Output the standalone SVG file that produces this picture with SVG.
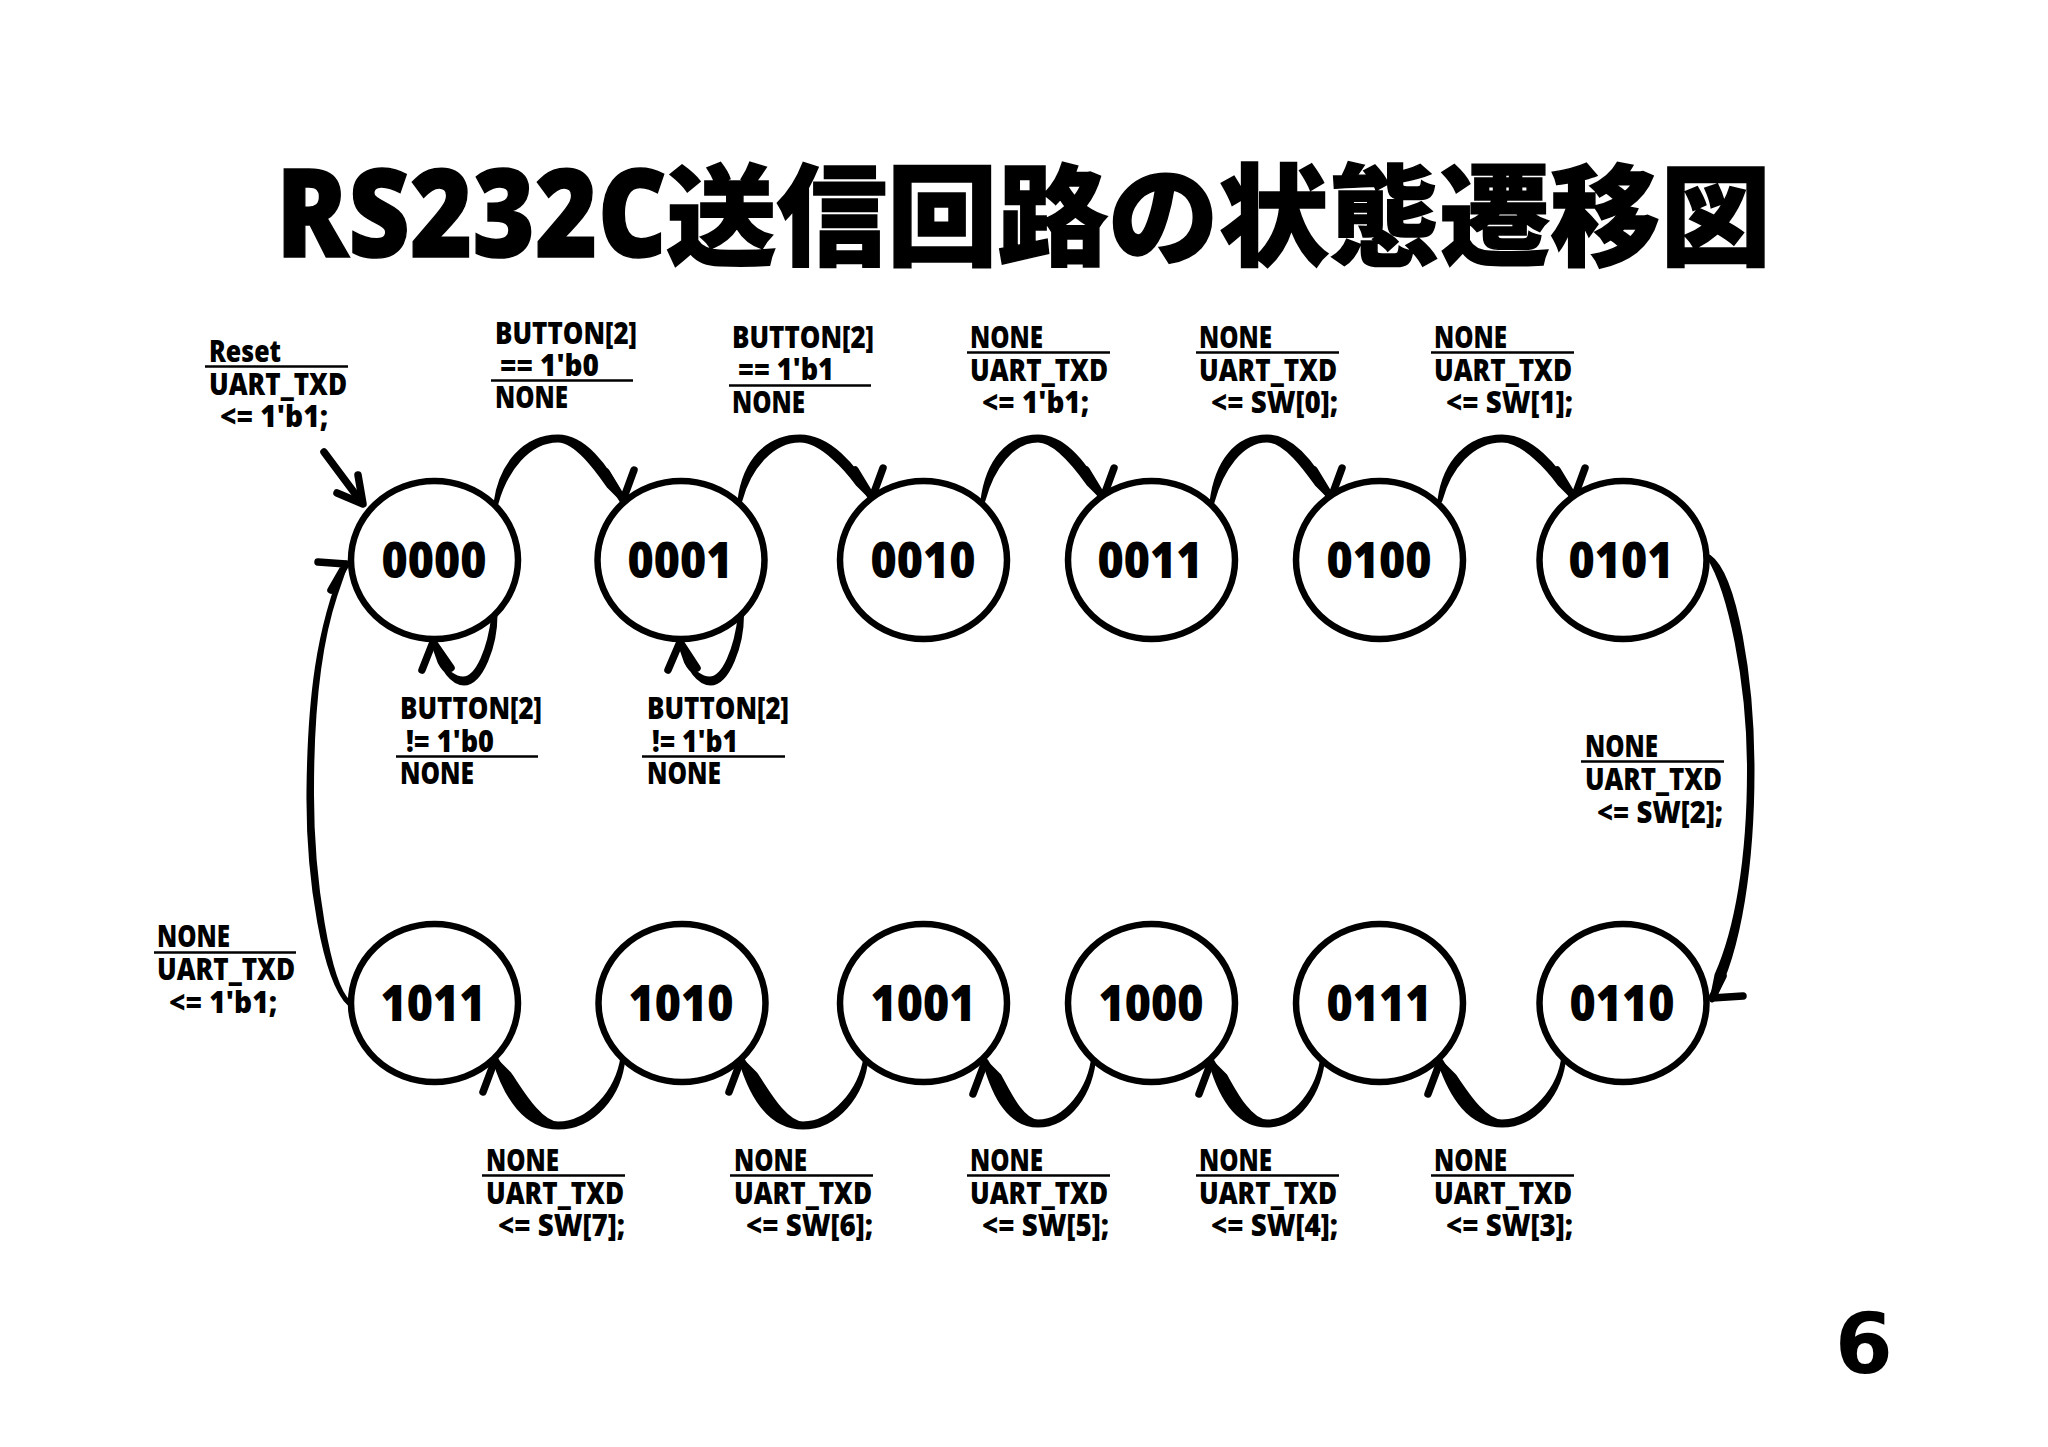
<svg xmlns="http://www.w3.org/2000/svg" width="2048" height="1447" viewBox="0 0 2048 1447">
<style>
text{font-family:"Open Sans","Noto Sans",sans-serif;font-weight:700;fill:#000}
.lab{font-size:30px;font-weight:800}
.num{font-size:50px;text-anchor:middle;font-weight:800}
.state{fill:#fff;stroke:#000;stroke-width:6.500}
.edge{fill:#000;stroke:#000;stroke-width:5;stroke-linejoin:round}
.head{fill:none;stroke:#000;stroke-width:7.500;stroke-linecap:round;stroke-linejoin:round}
.rule{stroke:#000;stroke-width:2.500}
</style>
<rect width="2048" height="1447" fill="#fff"/>
<text id="title" y="257" stroke="#000" stroke-width="1.500"><tspan x="276" font-size="122" font-weight="800" textLength="391" lengthAdjust="spacingAndGlyphs">RS232C</tspan><tspan x="666" font-size="110.500" font-weight="900" font-family="'Noto Sans CJK JP',sans-serif">送信回路の状態遷移図</tspan></text>

<g id="connectors">
<path class="edge" d="M496 503c5 -38 29 -66 62 -66c25 0 48 28 65 63l-14 -14c-10 -14 -32 -46 -51 -46c-30 0 -53 30 -62 63z"/>
<polyline class="head" points="606,472 623,500 634,470"/>
<path class="edge" d="M740 500c5 -38 27 -63 60 -63c28 0 54 28 72 61l-14 -14c-10 -14 -36 -44 -58 -44c-28 0 -51 27 -60 60z"/>
<polyline class="head" points="855,470 872,498 883,468"/>
<path class="edge" d="M983 500c5 -38 25 -63 55 -63c26 0 48 28 65 61l-14 -14c-10 -14 -32 -44 -51 -44c-26 0 -46 27 -55 60z"/>
<polyline class="head" points="1086,470 1103,498 1114,468"/>
<path class="edge" d="M1212 502c5 -40 25 -65 55 -65c26 0 47 28 64 61l-14 -14c-10 -14 -31 -44 -50 -44c-26 0 -46 29 -55 62z"/>
<polyline class="head" points="1314,470 1331,498 1342,468"/>
<path class="edge" d="M1440 500c5 -38 29 -63 62 -63c28 0 54 28 72 61l-14 -14c-10 -14 -36 -44 -58 -44c-30 0 -53 27 -62 60z"/>
<polyline class="head" points="1557,470 1574,498 1585,468"/>

<path class="edge" d="M623 1057c-3 38 -30 70 -65 70c-32 0 -52 -30 -63 -67l14 14c10 14 30 50 49 50c32 0 60 -33 65 -67z"/>
<polyline class="head" points="483,1092 495,1060 512,1090"/>
<path class="edge" d="M866 1057c-3 38 -30 70 -63 70c-32 0 -51 -30 -62 -67l14 14c10 14 29 50 48 50c30 0 58 -33 63 -67z"/>
<polyline class="head" points="729,1092 741,1060 758,1090"/>
<path class="edge" d="M1094 1055c-3 38 -25 70 -56 70c-28 0 -43 -28 -53 -63l14 14c8 14 22 46 39 46c28 0 53 -33 56 -67z"/>
<polyline class="head" points="973,1094 985,1062 1002,1092"/>
<path class="edge" d="M1323 1055c-3 38 -25 70 -56 70c-30 0 -46 -28 -56 -63l14 14c8 14 24 46 42 46c28 0 53 -33 56 -67z"/>
<polyline class="head" points="1199,1094 1211,1062 1228,1092"/>
<path class="edge" d="M1564 1055c-3 38 -29 70 -62 70c-32 0 -50 -28 -62 -63l14 14c10 14 29 46 48 46c30 0 59 -33 62 -67z"/>
<polyline class="head" points="1428,1094 1440,1062 1457,1092"/>

<path class="edge" d="M495 615c0 30 -14 68 -31 68c-14 0 -24 -20 -31 -41l7 20c5 10 15 17 23 17c15 0 27 -30 31 -64z"/>
<polyline class="head" points="422,670 433,642 451,668"/>
<path class="edge" d="M741.500 615c0 30 -14 68 -31 68c-14 0 -24 -20 -31 -41l7 20c5 10 15 17 23 17c15 0 27 -30 31 -64z"/>
<polyline class="head" points="668,670 680,642 697,668"/>

<path class="edge" d="M1709 557C1735 575 1752 680 1752 770C1752 860 1740 950 1712 1000L1717 975C1737 930 1749.500 860 1749.500 770C1749.500 680 1730 590 1709 557z"/>
<polyline class="head" points="1723,976 1712,998 1743,996"/>
<path class="edge" d="M349 1003C325 980 308 880 309 790C310 700 318 630 346 563L335 595C320 640 311.500 700 311.500 790C311 880 328 985 349 1003z"/>
<polyline class="head" points="318,562 346,564 331,590"/>

<line class="head" x1="324" y1="452" x2="362" y2="503"/>
<polyline class="head" points="358,475 363,504 337,493"/>
</g>

<g id="s0000"><ellipse class="state" cx="434.500" cy="560" rx="83.500" ry="79"/><text class="num" x="434" y="578" textLength="105" lengthAdjust="spacingAndGlyphs">0000</text></g>
<g id="s0001"><ellipse class="state" cx="681" cy="560" rx="83.500" ry="79"/><text class="num" x="680" y="578" textLength="105" lengthAdjust="spacingAndGlyphs">0001</text></g>
<g id="s0010"><ellipse class="state" cx="923.500" cy="560" rx="83.500" ry="79"/><text class="num" x="923" y="578" textLength="105" lengthAdjust="spacingAndGlyphs">0010</text></g>
<g id="s0011"><ellipse class="state" cx="1151.500" cy="560" rx="83.500" ry="79"/><text class="num" x="1150" y="578" textLength="105" lengthAdjust="spacingAndGlyphs">0011</text></g>
<g id="s0100"><ellipse class="state" cx="1379.500" cy="560" rx="83.500" ry="79"/><text class="num" x="1379" y="578" textLength="105" lengthAdjust="spacingAndGlyphs">0100</text></g>
<g id="s0101"><ellipse class="state" cx="1623" cy="560" rx="83.500" ry="79"/><text class="num" x="1621" y="578" textLength="105" lengthAdjust="spacingAndGlyphs">0101</text></g>
<g id="s1011"><ellipse class="state" cx="434.500" cy="1003" rx="83.500" ry="79"/><text class="num" x="433" y="1021" textLength="105" lengthAdjust="spacingAndGlyphs">1011</text></g>
<g id="s1010"><ellipse class="state" cx="682" cy="1003" rx="83.500" ry="79"/><text class="num" x="681" y="1021" textLength="105" lengthAdjust="spacingAndGlyphs">1010</text></g>
<g id="s1001"><ellipse class="state" cx="923.500" cy="1003" rx="83.500" ry="79"/><text class="num" x="923" y="1021" textLength="105" lengthAdjust="spacingAndGlyphs">1001</text></g>
<g id="s1000"><ellipse class="state" cx="1151.500" cy="1003" rx="83.500" ry="79"/><text class="num" x="1151" y="1021" textLength="105" lengthAdjust="spacingAndGlyphs">1000</text></g>
<g id="s0111"><ellipse class="state" cx="1379.500" cy="1003" rx="83.500" ry="79"/><text class="num" x="1379" y="1021" textLength="105" lengthAdjust="spacingAndGlyphs">0111</text></g>
<g id="s0110"><ellipse class="state" cx="1623" cy="1003" rx="83.500" ry="79"/><text class="num" x="1622" y="1021" textLength="105" lengthAdjust="spacingAndGlyphs">0110</text></g>

<g id="labels" transform="translate(0,1.500)">
<g><text class="lab" x="209" y="360" textLength="72" lengthAdjust="spacingAndGlyphs">Reset</text><line class="rule" x1="205" y1="365" x2="348" y2="365"/><text class="lab" x="209" y="393" textLength="138" lengthAdjust="spacingAndGlyphs">UART_TXD</text><text class="lab" x="220" y="425" textLength="108" lengthAdjust="spacingAndGlyphs">&lt;= 1'b1;</text></g>

<g><text class="lab" x="495" y="342" textLength="142" lengthAdjust="spacingAndGlyphs">BUTTON[2]</text><text class="lab" x="500" y="374" textLength="99" lengthAdjust="spacingAndGlyphs">== 1'b0</text><line class="rule" x1="491" y1="379" x2="633" y2="379"/><text class="lab" x="495" y="406" textLength="73" lengthAdjust="spacingAndGlyphs">NONE</text></g>
<g><text class="lab" x="732" y="346" textLength="142" lengthAdjust="spacingAndGlyphs">BUTTON[2]</text><text class="lab" x="738" y="378" textLength="96" lengthAdjust="spacingAndGlyphs">== 1'b1</text><line class="rule" x1="729" y1="384" x2="871" y2="384"/><text class="lab" x="732" y="411" textLength="73" lengthAdjust="spacingAndGlyphs">NONE</text></g>

<g><text class="lab" x="970" y="346" textLength="73" lengthAdjust="spacingAndGlyphs">NONE</text><line class="rule" x1="967" y1="351" x2="1110" y2="351"/><text class="lab" x="970" y="379" textLength="138" lengthAdjust="spacingAndGlyphs">UART_TXD</text><text class="lab" x="982" y="411" textLength="107" lengthAdjust="spacingAndGlyphs">&lt;= 1'b1;</text></g>
<g><text class="lab" x="1199" y="346" textLength="73" lengthAdjust="spacingAndGlyphs">NONE</text><line class="rule" x1="1196" y1="351" x2="1339" y2="351"/><text class="lab" x="1199" y="379" textLength="138" lengthAdjust="spacingAndGlyphs">UART_TXD</text><text class="lab" x="1211" y="411" textLength="127" lengthAdjust="spacingAndGlyphs">&lt;= SW[0];</text></g>
<g><text class="lab" x="1434" y="346" textLength="73" lengthAdjust="spacingAndGlyphs">NONE</text><line class="rule" x1="1431" y1="351" x2="1574" y2="351"/><text class="lab" x="1434" y="379" textLength="138" lengthAdjust="spacingAndGlyphs">UART_TXD</text><text class="lab" x="1446" y="411" textLength="127" lengthAdjust="spacingAndGlyphs">&lt;= SW[1];</text></g>

<g><text class="lab" x="400" y="717" textLength="142" lengthAdjust="spacingAndGlyphs">BUTTON[2]</text><text class="lab" x="406" y="750" textLength="88" lengthAdjust="spacingAndGlyphs">!= 1'b0</text><line class="rule" x1="396" y1="755" x2="538" y2="755"/><text class="lab" x="400" y="782" textLength="74" lengthAdjust="spacingAndGlyphs">NONE</text></g>
<g><text class="lab" x="647" y="717" textLength="142" lengthAdjust="spacingAndGlyphs">BUTTON[2]</text><text class="lab" x="652" y="750" textLength="86" lengthAdjust="spacingAndGlyphs">!= 1'b1</text><line class="rule" x1="642" y1="755" x2="785" y2="755"/><text class="lab" x="647" y="782" textLength="74" lengthAdjust="spacingAndGlyphs">NONE</text></g>

<g><text class="lab" x="1585" y="755" textLength="73" lengthAdjust="spacingAndGlyphs">NONE</text><line class="rule" x1="1581" y1="760" x2="1724" y2="760"/><text class="lab" x="1585" y="788" textLength="137" lengthAdjust="spacingAndGlyphs">UART_TXD</text><text class="lab" x="1597" y="821" textLength="126" lengthAdjust="spacingAndGlyphs">&lt;= SW[2];</text></g>
<g><text class="lab" x="157" y="945" textLength="73" lengthAdjust="spacingAndGlyphs">NONE</text><line class="rule" x1="154" y1="951" x2="296" y2="951"/><text class="lab" x="157" y="978" textLength="138" lengthAdjust="spacingAndGlyphs">UART_TXD</text><text class="lab" x="169" y="1011" textLength="108" lengthAdjust="spacingAndGlyphs">&lt;= 1'b1;</text></g>

<g><text class="lab" x="486" y="1169" textLength="73" lengthAdjust="spacingAndGlyphs">NONE</text><line class="rule" x1="482" y1="1174" x2="625" y2="1174"/><text class="lab" x="486" y="1202" textLength="138" lengthAdjust="spacingAndGlyphs">UART_TXD</text><text class="lab" x="498" y="1234" textLength="127" lengthAdjust="spacingAndGlyphs">&lt;= SW[7];</text></g>
<g><text class="lab" x="734" y="1169" textLength="73" lengthAdjust="spacingAndGlyphs">NONE</text><line class="rule" x1="730" y1="1174" x2="873" y2="1174"/><text class="lab" x="734" y="1202" textLength="138" lengthAdjust="spacingAndGlyphs">UART_TXD</text><text class="lab" x="746" y="1234" textLength="127" lengthAdjust="spacingAndGlyphs">&lt;= SW[6];</text></g>
<g><text class="lab" x="970" y="1169" textLength="73" lengthAdjust="spacingAndGlyphs">NONE</text><line class="rule" x1="967" y1="1174" x2="1110" y2="1174"/><text class="lab" x="970" y="1202" textLength="138" lengthAdjust="spacingAndGlyphs">UART_TXD</text><text class="lab" x="982" y="1234" textLength="127" lengthAdjust="spacingAndGlyphs">&lt;= SW[5];</text></g>
<g><text class="lab" x="1199" y="1169" textLength="73" lengthAdjust="spacingAndGlyphs">NONE</text><line class="rule" x1="1196" y1="1174" x2="1339" y2="1174"/><text class="lab" x="1199" y="1202" textLength="138" lengthAdjust="spacingAndGlyphs">UART_TXD</text><text class="lab" x="1211" y="1234" textLength="127" lengthAdjust="spacingAndGlyphs">&lt;= SW[4];</text></g>
<g><text class="lab" x="1434" y="1169" textLength="73" lengthAdjust="spacingAndGlyphs">NONE</text><line class="rule" x1="1431" y1="1174" x2="1574" y2="1174"/><text class="lab" x="1434" y="1202" textLength="138" lengthAdjust="spacingAndGlyphs">UART_TXD</text><text class="lab" x="1446" y="1234" textLength="127" lengthAdjust="spacingAndGlyphs">&lt;= SW[3];</text></g>
</g>

<text id="page" x="1835" y="1373" font-size="83" style="font-family:'DejaVu Sans',sans-serif;font-weight:700">6</text>
</svg>
